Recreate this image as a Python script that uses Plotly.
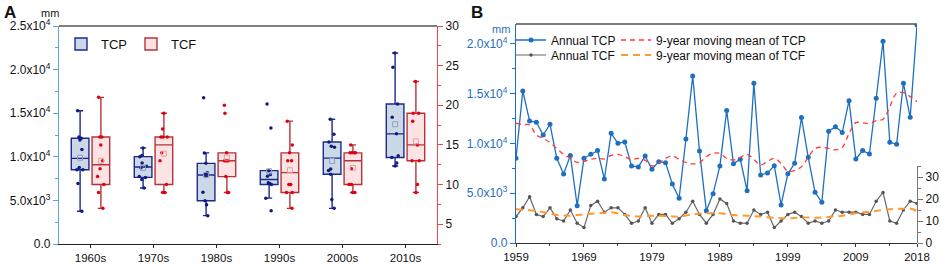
import numpy as np
import plotly.graph_objects as go

# ---------------- data ----------------
years = list(range(1959, 2019))
tcp_annual = [8510, 15280, 12260, 12130, 10850, 11930, 8510, 6940, 8780, 3750,
              8510, 8910, 9280, 6430, 11020, 10020, 10150, 7740, 7640, 8740,
              7400, 8170, 8070, 5930, 4490, 10450, 16780, 9250, 3250, 4960,
              7740, 13300, 7970, 8410, 5260, 16050, 6830, 7030, 7770, 3820,
              6950, 8000, 12600, 8610, 5090, 4090, 11220, 11690, 11090, 14300,
              8440, 9280, 8940, 14540, 20270, 10120, 9920, 16050, 12630, 21900]
tcf_annual = [12, 16, 21, 13, 12, 16, 11, 10, 15, 9,
              7, 17, 19, 14, 16, 16, 13, 9, 10, 16,
              9, 13, 13, 9, 11, 14, 19, 13, 9, 13,
              20, 18, 10, 9, 9, 15, 13, 14, 7, 10,
              13, 14, 12, 9, 10, 9, 10, 15, 14, 14,
              14, 13, 13, 19, 23, 10, 9, 15, 19, 18]
tcp_ma9 = [12030, 11900, 11860, 10850, 10520, 10100, 9500, 8900, 8510, 8100,
           8200, 8400, 8510, 8440, 8800, 8900, 8670, 8400, 8510, 8300,
           7740, 8010, 8500, 8740, 8410, 8100, 7940, 8070, 8670, 9010,
           9000, 8500, 8340, 8600, 8910, 8400, 7840, 8200, 8500, 8000,
           7200, 7300, 7670, 8600, 9500, 9620, 9500, 9350, 9600, 11000,
           12090, 12050, 12030, 12300, 12430, 13700, 15040, 15110, 14700, 14200]
tcf_ma9 = [15.3, 15.1, 14.9, 14.5, 14.0, 13.3, 12.7, 12.5, 12.4, 12.7,
           13.0, 13.3, 13.5, 13.8, 14.0, 13.4, 12.7, 12.3, 12.0, 12.2,
           12.4, 12.4, 12.3, 12.1, 12.0, 12.5, 13.0, 13.3, 13.5, 13.5,
           13.5, 13.1, 12.7, 12.5, 12.4, 12.2, 12.0, 11.7, 11.5, 11.3,
           11.2, 11.4, 11.7, 11.6, 11.5, 11.6, 11.8, 12.1, 12.4, 13.0,
           13.5, 13.9, 14.2, 14.6, 15.0, 15.3, 15.5, 15.6, 15.7, 14.5]
decades = ["1960s", "1970s", "1980s", "1990s", "2000s", "2010s"]
decade_start = [1960, 1970, 1980, 1990, 2000, 2010]

tcp_ticks = [0, 5000, 10000, 15000, 20000, 25000]
tcp_ticktext = ["0.0", "5.0x10<sup>3</sup>", "1.0x10<sup>4</sup>", "1.5x10<sup>4</sup>",
                "2.0x10<sup>4</sup>", "2.5x10<sup>4</sup>"]
tcf_ticks_a = [5, 10, 15, 20, 25, 30]
tcf_ticks_b = [0, 10, 20, 30]
year_ticks = [1959, 1969, 1979, 1989, 1999, 2009, 2018]

# ---------------- style ----------------
FONT = "Arial, Liberation Sans, sans-serif"
W, H = 941, 264
def px_x(p): return p / W
def px_y(p): return 1 - p / H

A_x = [px_x(59), px_x(437)]
A_y = [px_y(244), px_y(26)]
B_x = [px_x(516), px_x(917)]
B_y = [px_y(243), px_y(24)]
B_y3 = [px_y(243), px_y(166)]

tcp_line = "#1c2a8c"
tcp_fill = "#cbd9e6"
tcf_line = "#b5343a"
tcf_fill = "#fde3e3"
blue = "#1f6fc0"

fig = go.Figure()

# ---------------- panel A: boxes ----------------
off, bw = 0.165, 0.28
bx_tcp, by_tcp, bx_tcf, by_tcf = [], [], [], []
mean_tcp, mean_tcf = [], []
for i, d0 in enumerate(decade_start):
    idx = [k for k, y in enumerate(years) if d0 <= y < d0 + 10]
    vp = [tcp_annual[k] for k in idx]
    vf = [tcf_annual[k] for k in idx]
    bx_tcp += [i - off] * len(vp); by_tcp += vp
    bx_tcf += [i + off] * len(vf); by_tcf += vf
    mean_tcp.append(float(np.mean(vp)))
    mean_tcf.append(float(np.mean(vf)))

fig.add_trace(go.Box(
    x=bx_tcp, y=by_tcp, name="TCP", xaxis="x", yaxis="y",
    boxpoints="all", jitter=0.45, pointpos=0, width=bw, whiskerwidth=0.35,
    quartilemethod="inclusive",
    line=dict(color=tcp_line, width=1.4), fillcolor=tcp_fill,
    marker=dict(color="#101a80", size=3.5),
    legend="legend3", hoverinfo="skip"))
fig.add_trace(go.Box(
    x=bx_tcf, y=by_tcf, name="TCF", xaxis="x", yaxis="y4",
    boxpoints="all", jitter=0.45, pointpos=0, width=bw, whiskerwidth=0.35,
    quartilemethod="inclusive",
    line=dict(color=tcf_line, width=1.4), fillcolor=tcf_fill,
    marker=dict(color="#e00010", size=3.5),
    legend="legend6", hoverinfo="skip"))
fig.add_trace(go.Scatter(
    x=[i - off for i in range(len(decades))], y=mean_tcp, mode="markers",
    xaxis="x", yaxis="y", showlegend=False,
    marker=dict(symbol="square-open", size=5, color="#9a9ac0", line=dict(width=1))))
fig.add_trace(go.Scatter(
    x=[i + off for i in range(len(decades))], y=mean_tcf, mode="markers",
    xaxis="x", yaxis="y4", showlegend=False,
    marker=dict(symbol="square-open", size=5, color="#e0a0a0", line=dict(width=1))))

# ---------------- panel B: series ----------------
fig.add_trace(go.Scatter(
    x=years, y=tcp_annual, mode="lines+markers", name="Annual TCP",
    xaxis="x2", yaxis="y2", legend="legend",
    line=dict(color=blue, width=1.3), marker=dict(size=5, color=blue)))
fig.add_trace(go.Scatter(
    x=years, y=tcf_annual, mode="lines+markers", name="Annual TCF",
    xaxis="x2", yaxis="y3", legend="legend4",
    line=dict(color="#666666", width=1.2), marker=dict(size=3.5, color="#555555")))
fig.add_trace(go.Scatter(
    x=years, y=tcp_ma9, mode="lines", name="9-year moving mean of TCP",
    xaxis="x2", yaxis="y2", legend="legend2",
    line=dict(color="#ff3b3b", width=1.3, dash="5px,4px", shape="spline")))
fig.add_trace(go.Scatter(
    x=years, y=tcf_ma9, mode="lines", name="9-year moving mean of TCF",
    xaxis="x2", yaxis="y3", legend="legend5",
    line=dict(color="#ff9a2e", width=2, dash="7px,5px", shape="spline")))

tickfont = dict(family=FONT, size=12, color="#111111")
xtickfont = dict(family=FONT, size=11.5, color="#111111")
common = dict(showgrid=False, zeroline=False, ticks="outside", ticklen=5,
              tickwidth=1, showline=True, linewidth=1.3, automargin=False)
common_x = dict(common, ticklen=3)

def leg(x, y, size=12):
    return dict(x=px_x(x), y=px_y(y), xanchor="left", yanchor="middle",
                bgcolor="rgba(0,0,0,0)", borderwidth=0,
                font=dict(family=FONT, size=size, color="#111"),
                tracegroupgap=0, itemwidth=30)

fig.update_layout(
    width=W, height=H, autosize=False, template="none",
    margin=dict(l=0, r=0, t=0, b=0),
    paper_bgcolor="white", plot_bgcolor="rgba(0,0,0,0)",
    font=dict(family=FONT, size=12, color="#111111"),
    boxmode="overlay",
    xaxis=dict(domain=A_x, anchor="y", range=[-0.5, 5.5],
               tickvals=list(range(len(decades))), ticktext=decades,
               linecolor="#222222", tickcolor="#222222", tickfont=xtickfont, **common_x),
    yaxis=dict(domain=A_y, anchor="x", range=[0, 25000],
               tickvals=tcp_ticks, ticktext=tcp_ticktext,
               linecolor="#5aa5dc", tickcolor="#5aa5dc", tickfont=tickfont,
               minor=dict(dtick=2500, ticks="outside", ticklen=3, tickcolor="#5aa5dc"),
               **common),
    yaxis4=dict(overlaying="y", side="right", anchor="x", range=[2.5, 30],
                tickvals=tcf_ticks_a,
                linecolor="#e8474b", tickcolor="#e8474b", tickfont=tickfont,
                minor=dict(tick0=0, dtick=2.5, ticks="outside", ticklen=3, tickcolor="#e8474b"),
                **common),
    xaxis2=dict(domain=B_x, anchor="y2", range=[1959, 2018],
                tickvals=year_ticks,
                linecolor="#333333", tickcolor="#333333", tickfont=xtickfont,
                minor=dict(tick0=1959, dtick=5, ticks="outside", ticklen=2, tickcolor="#333333"),
                **common_x),
    yaxis2=dict(domain=B_y, anchor="x2", range=[0, 22000],
                tickvals=tcp_ticks[:5], ticktext=tcp_ticktext[:5],
                linecolor=blue, tickcolor=blue,
                tickfont=dict(family=FONT, size=12, color=blue),
                minor=dict(dtick=2500, ticks="outside", ticklen=3, tickcolor=blue),
                **common),
    yaxis3=dict(domain=B_y3, anchor="x2", side="right", range=[0, 35],
                tickvals=tcf_ticks_b,
                linecolor="#777777", tickcolor="#777777", tickfont=tickfont,
                minor=dict(tick0=0, dtick=5, ticks="outside", ticklen=3, tickcolor="#777777"),
                **common),
    legend=leg(511, 40),
    legend4=leg(511, 55),
    legend2=leg(616, 40),
    legend5=leg(616, 55),
    legend3=leg(61, 44, 13),
    legend6=leg(131, 44, 13),
    shapes=[
        dict(type="line", xref="x domain", yref="y domain", x0=0, x1=1, y0=1, y1=1,
             line=dict(color="#555555", width=1.3)),
        dict(type="line", xref="x2 domain", yref="y2 domain", x0=0, x1=1, y0=1, y1=1,
             line=dict(color="#555555", width=1.3)),
    ],
    annotations=[
        dict(text="<b>A</b>", x=px_x(2), y=px_y(12.5), xref="paper", yref="paper",
             xanchor="left", yanchor="middle", showarrow=False,
             font=dict(family=FONT, size=17, color="#111")),
        dict(text="<b>B</b>", x=px_x(469), y=px_y(12.5), xref="paper", yref="paper",
             xanchor="left", yanchor="middle", showarrow=False,
             font=dict(family=FONT, size=17, color="#111")),
        dict(text="mm", x=px_x(39), y=px_y(13), xref="paper", yref="paper",
             xanchor="left", yanchor="middle", showarrow=False,
             font=dict(family=FONT, size=11, color="#111")),
        dict(text="mm", x=px_x(490), y=px_y(29), xref="paper", yref="paper",
             xanchor="left", yanchor="middle", showarrow=False,
             font=dict(family=FONT, size=11, color=blue)),
    ],
)

fig.write_html("out.html", config={"displayModeBar": False},
               post_script="document.body.style.margin='0px';document.body.style.overflow='hidden';")
